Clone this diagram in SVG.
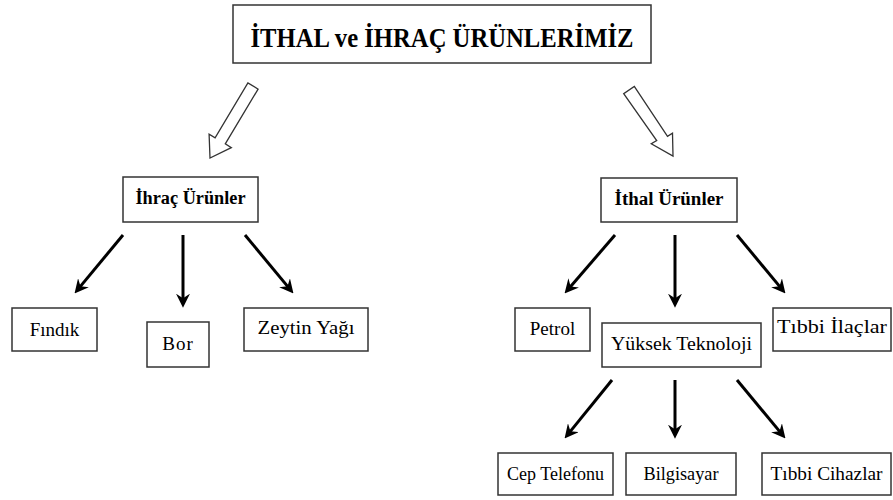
<svg xmlns="http://www.w3.org/2000/svg" width="893" height="500" viewBox="0 0 893 500">
<style>
.box{fill:#fff;stroke:#333;stroke-width:1.5}
text{font-family:"Liberation Serif","DejaVu Serif",serif;fill:#000;text-anchor:middle}
.b{font-weight:bold}
.con{stroke:#000;stroke-width:3;fill:none;marker-end:url(#ah)}
.hollow{fill:#fff;stroke:#333;stroke-width:1.3;stroke-linejoin:miter}
</style>
<defs>
<marker id="ah" markerUnits="userSpaceOnUse" markerWidth="14" markerHeight="14" viewBox="0 0 12 12" refX="8" refY="6" orient="auto">
<path d="M0,0 L12,6 L0,12 L4,6 z" fill="#000"/>
</marker>
</defs>
<rect width="893" height="500" fill="#fff"/>
<g id="title">
<rect class="box" x="233" y="5" width="418" height="58"/>
<text class="b" x="442" y="47" font-size="27" textLength="383" lengthAdjust="spacingAndGlyphs">İTHAL ve İHRAÇ ÜRÜNLERİMİZ</text>
</g>
<g id="connectors">
<polygon class="hollow" points="258.1,89.1 225.3,143.9 231.3,147.6 210,158 209.1,134.2 215.1,137.8 247.9,82.9"/>
<polygon class="hollow" points="634.3,86.4 667.5,136.4 672.5,133.1 673,156 651.3,143.7 656.7,140.6 623.7,93.6"/>
<line class="con" x1="123" y1="235" x2="77.5" y2="289.9"/>
<line class="con" x1="183" y1="235" x2="183" y2="303"/>
<line class="con" x1="245" y1="235" x2="290.5" y2="289.9"/>
<line class="con" x1="615" y1="235" x2="567.6" y2="290"/>
<line class="con" x1="675" y1="235" x2="675" y2="303"/>
<line class="con" x1="737" y1="235" x2="782.5" y2="289.9"/>
<line class="con" x1="612" y1="380" x2="567.5" y2="434.9"/>
<line class="con" x1="675" y1="380" x2="675" y2="434"/>
<line class="con" x1="737" y1="380" x2="782.5" y2="434.9"/>
</g>
<g id="ihrac">
<rect class="box" x="123" y="177" width="135" height="45"/>
<text class="b" x="190.5" y="204" font-size="18" textLength="110" lengthAdjust="spacingAndGlyphs">İhraç Ürünler</text>
</g>
<g id="ithal">
<rect class="box" x="601" y="178" width="136" height="44"/>
<text class="b" x="669" y="205" font-size="18" textLength="109" lengthAdjust="spacingAndGlyphs">İthal Ürünler</text>
</g>
<g id="findik">
<rect class="box" x="12" y="308" width="85" height="43"/>
<text x="54.5" y="336" font-size="19">Fındık</text>
</g>
<g id="bor">
<rect class="box" x="147" y="322" width="62" height="45"/>
<text x="178" y="350" font-size="19" letter-spacing="1">Bor</text>
</g>
<g id="zeytin">
<rect class="box" x="244" y="308" width="124" height="43"/>
<text x="306" y="334" font-size="19" textLength="97" lengthAdjust="spacingAndGlyphs">Zeytin Yağı</text>
</g>
<g id="petrol">
<rect class="box" x="515" y="308" width="75" height="43"/>
<text x="552.5" y="335" font-size="19">Petrol</text>
</g>
<g id="yuksek">
<rect class="box" x="602" y="323" width="159" height="44"/>
<text x="681.5" y="350" font-size="19" textLength="141" lengthAdjust="spacingAndGlyphs">Yüksek Teknoloji</text>
</g>
<g id="ilaclar">
<rect class="box" x="773" y="308" width="118" height="43"/>
<text x="832" y="333" font-size="19" textLength="110" lengthAdjust="spacingAndGlyphs">Tıbbi İlaçlar</text>
</g>
<g id="cep">
<rect class="box" x="498" y="453" width="115" height="42"/>
<text x="555.5" y="480" font-size="18">Cep Telefonu</text>
</g>
<g id="bilgisayar">
<rect class="box" x="626" y="453" width="110" height="42"/>
<text x="681" y="480" font-size="18" textLength="75" lengthAdjust="spacingAndGlyphs">Bilgisayar</text>
</g>
<g id="cihazlar">
<rect class="box" x="762" y="453" width="129" height="42"/>
<text x="826.5" y="480" font-size="18" textLength="112" lengthAdjust="spacingAndGlyphs">Tıbbi Cihazlar</text>
</g>
</svg>
